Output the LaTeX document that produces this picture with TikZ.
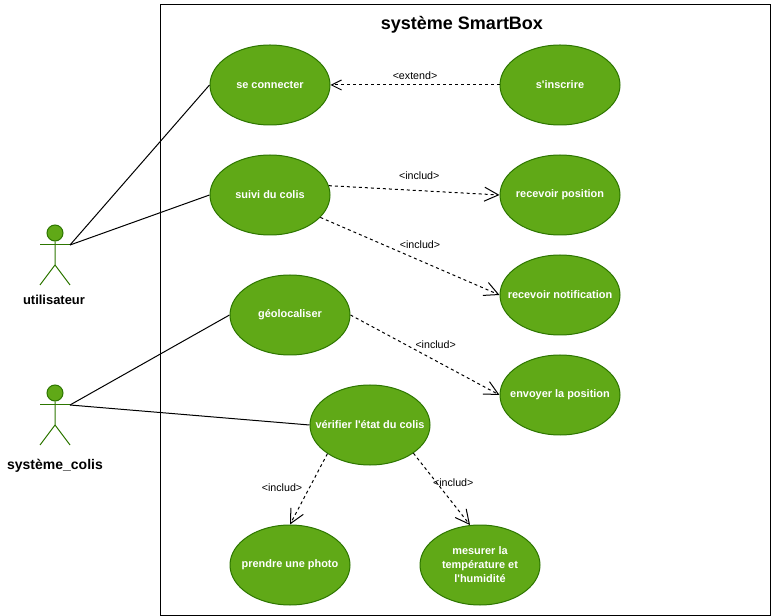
\documentclass[tikz,border=0pt]{standalone}
\usepackage{fontspec}
\setmainfont{Liberation Sans}[Ligatures=TeXOff]
\usetikzlibrary{arrows.meta,shapes.geometric}
\definecolor{casefill}{HTML}{60A917}
\definecolor{caseline}{HTML}{2D7600}
\tikzset{
  usecase/.style={draw=caseline, fill=casefill, ellipse, minimum width=90pt, minimum height=60pt,
                  inner xsep=-14pt, inner ysep=0pt, align=center, text=white,
                  font=\bfseries\fontsize{8.2}{10.5}\selectfont},
  head/.style={draw=caseline, fill=casefill, circle, minimum size=12pt, inner sep=0pt},
  limb/.style={draw=caseline, line width=0.75pt},
  assoc/.style={line width=0.75pt},
  dep/.style={line width=0.75pt, dash pattern=on 2.25pt off 2.25pt, -{Straight Barb[length=10.5pt,width=10.5pt]}},
  ext/.style={line width=0.75pt, dash pattern=on 2.25pt off 2.25pt, -{Straight Barb[length=7.5pt,width=7.5pt]}},
  deplabel/.style={font=\fontsize{8}{9.5}\selectfont, inner sep=0pt},
  actorname/.style={font=\bfseries\fontsize{9.7}{11}\selectfont, inner sep=0pt}
}
\begin{document}
\begin{tikzpicture}[x=0.75pt, y=-0.75pt, line width=0.75pt]
  \useasboundingbox (0,0) rectangle (771,616);
  \node (box) [draw, rectangle, minimum width=457.5pt, minimum height=457.5pt, inner sep=0pt] at (465,310) {};
  \node (title) [font=\bfseries\fontsize{13.5}{16}\selectfont, inner sep=0pt] at (462,25) {système SmartBox};

  \node (connect) [usecase] at (270,85) {se connecter};
  \node (inscr) [usecase, node distance=217.5pt, right of=connect] {s'inscrire};
  \node (suivi) [usecase, node distance=82.5pt, below of=connect] {suivi du colis};
  \node (recpos) [usecase, node distance=217.5pt, right of=suivi] {recevoir position};
  \node (recnotif) [usecase, node distance=75pt, below of=recpos] {recevoir notification};
  \node (envoi) [usecase, node distance=75pt, below of=recnotif] {envoyer la position};
  \node (geoloc) [usecase, node distance=90pt, below of=suivi, xshift=15pt] {géolocaliser};
  \node (verif) [usecase, node distance=82.5pt, below of=geoloc, xshift=60pt] {vérifier l'état du colis};
  \node (photo) [usecase, node distance=105pt, below of=verif, xshift=-60pt] {prendre une photo};
  \node (mesure) [usecase, node distance=142.5pt, right of=photo] {mesurer la\\température et\\l'humidité};

  \node (user_head) [head] at (55,233) {};
  \coordinate (user_hand) at (70,245);
  \coordinate (user_arm) at (40,245);
  \coordinate (user_hip) at (55,265);
  \coordinate (user_lfoot) at (40,285);
  \coordinate (user_rfoot) at (70,285);
  \draw[limb] (user_head) -- (user_hip) -- (user_lfoot);
  \draw[limb] (user_hip) -- (user_rfoot);
  \draw[limb] (user_arm) -- (user_hand);
  \node (user_name) [actorname] at (54,300) {utilisateur};

  \node (sys_head) [head] at (55,393) {};
  \coordinate (sys_hand) at (70,405);
  \coordinate (sys_arm) at (40,405);
  \coordinate (sys_hip) at (55,425);
  \coordinate (sys_lfoot) at (40,445);
  \coordinate (sys_rfoot) at (70,445);
  \draw[limb] (sys_head) -- (sys_hip) -- (sys_lfoot);
  \draw[limb] (sys_hip) -- (sys_rfoot);
  \draw[limb] (sys_arm) -- (sys_hand);
  \node (sys_name) [actorname, font=\bfseries\fontsize{10.5}{12}\selectfont] at (55,466) {système\_colis};

  \draw[assoc] (user_hand) -- (connect.west);
  \draw[assoc] (user_hand) -- (suivi.west);
  \draw[assoc] (sys_hand) -- (geoloc.west);
  \draw[assoc] (sys_hand) -- (verif.west);

  \draw[ext] (inscr.west) -- (connect.east)
    node[midway, deplabel, yshift=6.75pt] {<extend>};
  \draw[dep] (suivi.9) -- (recpos.west)
    node[midway, deplabel, xshift=3.75pt, yshift=11pt] {<includ>};
  \draw[dep] (suivi.-24) -- (recnotif.west)
    node[midway, deplabel, xshift=7.5pt, yshift=9pt] {<includ>};
  \draw[dep] (geoloc.east) -- (envoi.west)
    node[midway, deplabel, xshift=8pt, yshift=7.5pt] {<includ>};
  \draw[dep] (verif.214) -- (photo.north)
    node[midway, deplabel, xshift=-20pt, yshift=0.75pt] {<includ>};
  \draw[dep] (verif.327) -- (mesure.104)
    node[midway, deplabel, xshift=8.6pt, yshift=5pt] {<includ>};
\end{tikzpicture}
\end{document}
